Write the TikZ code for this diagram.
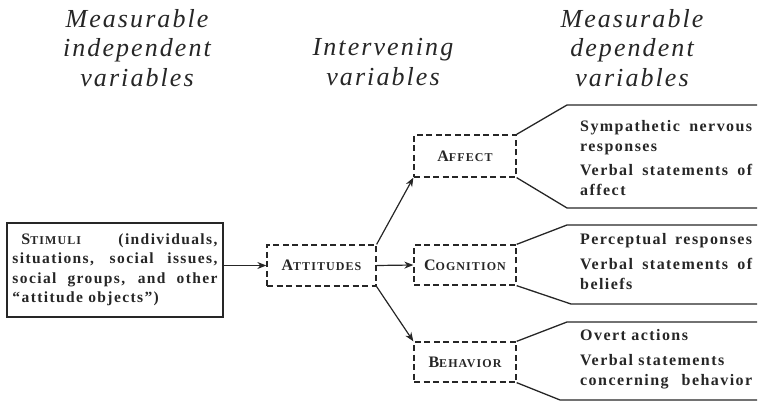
\documentclass[tikz,border=0pt]{standalone}
\usepackage{fontspec}
\setmainfont{Liberation Serif}
\newfontfamily\headfont[LetterSpace=8]{Liberation Serif}
\newfontfamily\bodyfont[LetterSpace=9]{Liberation Serif}
\usetikzlibrary{arrows.meta}
\newcommand\mysc[2]{{\fontsize{16}{16}\selectfont #1}{\fontsize{12}{12}\selectfont #2}}
\newcommand\fl[2]{\makebox[#1][s]{#2}}
\definecolor{ink}{gray}{0.15}
\begin{document}
\begin{tikzpicture}[x=1pt,y=-1pt,
  every node/.style={text=ink},
  head/.style={font=\headfont\itshape\fontsize{26}{29.5}\selectfont, align=center, inner sep=0, anchor=north},
  body/.style={font=\bodyfont\bfseries\fontsize{16}{20}\selectfont, align=left, inner sep=0, anchor=north west},
  dbox/.style={draw=ink, dash pattern=on 6pt off 3.5pt, line width=1.3pt, minimum width=102pt, minimum height=41pt, inner sep=0, font=\bodyfont\bfseries},
  sbox/.style={draw=ink, line width=1.3pt, minimum width=216pt, minimum height=94pt, inner sep=0, align=left, font=\bodyfont\bfseries\fontsize{15.5}{19.5}\selectfont},
  arr/.style={draw=ink, -{Stealth[length=9pt,width=7pt]}, line width=1.2pt},
  brk/.style={draw=ink, line width=1.3pt}]
\useasboundingbox (0,0) rectangle (760,403);
% headings
\node[head] (h1) at (137,9) {Measurable\\independent\\variables};
\node[head] (h2) at (383,38.5) {Intervening\\variables};
\node[head] (h3) at (632,9) {Measurable\\dependent\\variables};
% boxes
\node[sbox] (stim) at (115,270) {\hspace*{9pt}\fl{196pt}{\mysc{S}{TIMULI} (individuals,}\\
\fl{205pt}{situations, social issues,}\\
\fl{205pt}{social groups, and other}\\
“attitude objects”)};
\node[dbox, minimum width=109pt] (att) at (321.5,265.5) {\mysc{A}{TTITUDES}};
\node[dbox, minimum height=42pt] (aff) at (465,156) {\mysc{A}{FFECT}};
\node[dbox, minimum height=40pt] (cog) at (465,265) {\mysc{C}{OGNITION}};
\node[dbox, minimum height=40pt] (beh) at (465,362) {\mysc{B}{EHAVIOR}};
% arrows
\draw[arr] (stim.east |- att.west) -- (att.west);
\draw[arr] (att.north east) -- (aff.south west);
\draw[arr] (att.east) -- (cog.west);
\draw[arr] (att.south east) -- (beh.north west);
% brackets
\coordinate (a1) at (567,105); \coordinate (a1e) at (757,105);
\coordinate (a2) at (567,208); \coordinate (a2e) at (757,208);
\coordinate (c1) at (567,225); \coordinate (c1e) at (757,225);
\coordinate (c2) at (571,304); \coordinate (c2e) at (757,304);
\coordinate (b1) at (567,322); \coordinate (b1e) at (757,322);
\coordinate (b2) at (560,400); \coordinate (b2e) at (757,400);
\draw[brk] (aff.north east) -- (a1) -- (a1e);
\draw[brk] (aff.south east) -- (a2) -- (a2e);
\draw[brk] (cog.north east) -- (c1) -- (c1e);
\draw[brk] (cog.south east) -- (c2) -- (c2e);
\draw[brk] (beh.north east) -- (b1) -- (b1e);
\draw[brk] (beh.south east) -- (b2) -- (b2e);
% dependent measures
\node[body] (affd) at (580,120) {\fl{172pt}{Sympathetic nervous}\\responses\\[4pt]\fl{172pt}{Verbal statements of}\\affect};
\node[body] (cogd) at (580,233) {\fl{172pt}{Perceptual responses}\\[5pt]\fl{172pt}{Verbal statements of}\\beliefs};
\node[body] (behd) at (580,329) {Overt actions\\[5pt]Verbal statements\\\fl{172pt}{concerning behavior}};
\end{tikzpicture}
\end{document}
